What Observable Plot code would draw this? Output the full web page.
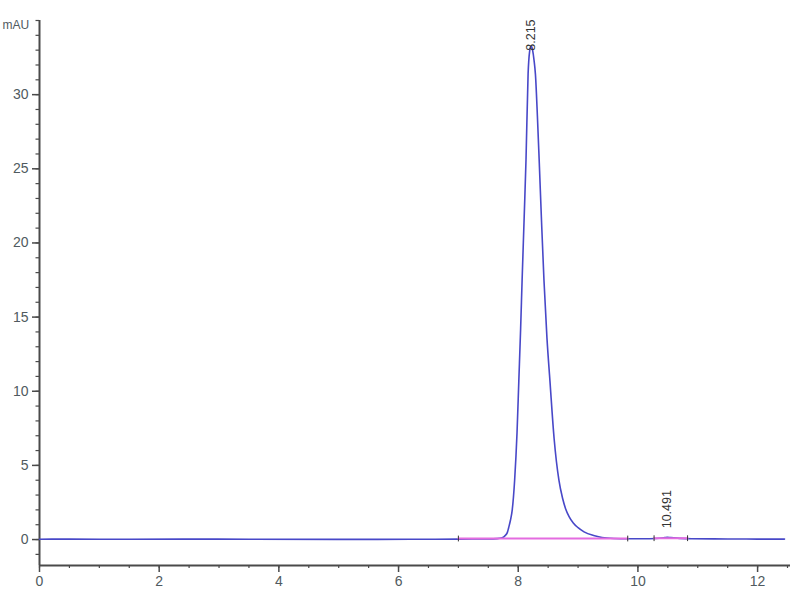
<!DOCTYPE html>
<html>
<head>
<meta charset="utf-8">
<script src="https://cdn.jsdelivr.net/npm/d3@7"></script>
<script src="https://cdn.jsdelivr.net/npm/@observablehq/plot@0.6"></script>
<style>
  html, body { margin: 0; padding: 0; background: #fff; }
  #chart svg { display: block; }
</style>
</head>
<body>
<div id="chart"></div>
<script>
// Chromatogram trace (retention time in min, absorbance in mAU)
const times = [0, 0.5, 1.5, 2.4, 3.5, 5.0, 6.2, 7.0, 7.5, 7.65, 7.72, 7.76, 7.79, 7.82, 7.84, 7.87, 7.90, 7.94, 7.98, 8.01, 8.04, 8.065, 8.10, 8.13, 8.165, 8.19, 8.215, 8.24, 8.265, 8.287, 8.32, 8.35, 8.39, 8.43, 8.48, 8.53, 8.60, 8.68, 8.74, 8.79, 8.85, 8.92, 9.0, 9.1, 9.26, 9.4, 9.6, 9.83, 10.1, 10.3, 10.45, 10.49, 10.55, 10.7, 10.9, 11.5, 12.0, 12.45];
const absorbance = [0.02, 0.03, 0.02, 0.03, 0.02, 0.01, 0.02, 0.03, 0.04, 0.06, 0.1, 0.18, 0.3, 0.5, 0.8, 1.3, 2.0, 4.0, 7.2, 10.7, 14.2, 17.5, 21.8, 25.6, 31.4, 32.9, 33.3, 33.0, 32.3, 31.4, 28.6, 25.6, 21.4, 17.5, 13.6, 10.7, 6.8, 4.0, 2.8, 2.1, 1.55, 1.12, 0.8, 0.52, 0.27, 0.14, 0.07, 0.05, 0.05, 0.07, 0.13, 0.15, 0.13, 0.08, 0.05, 0.04, 0.03, 0.03];

// Integrated peaks
const peakTimes = [8.215, 10.491];
const peakHeights = [33.3, 0.15];
const peakLabels = ["8.215", "10.491"];

// Integration baselines
const baseStart = [7.0, 10.27];
const baseEnd = [9.83, 10.83];
const baseLevelStart = [0.07, 0.09];
const baseLevelEnd = [0.07, 0.09];

// Axes
const xDomain = [0, 12.55];
const yDomain = [-1.75, 35];
const xMajorTicks = [0, 2, 4, 6, 8, 10, 12];
const xMinorTicks = d3.range(0, 12.51, 0.5);
const yMajorTicks = [0, 5, 10, 15, 20, 25, 30];
const yMinorTicks = d3.range(-1, 35.01, 1);
const yUnit = "mAU";

const trace = times.map((t, i) => ({t, v: absorbance[i]}));
const peaks = peakTimes.map((t, i) => ({t, v: peakHeights[i], label: peakLabels[i]}));
const baselineSegs = [];
baseStart.forEach((s, i) => {
  baselineSegs.push({seg: i, t: s, v: baseLevelStart[i]});
  baselineSegs.push({seg: i, t: baseEnd[i], v: baseLevelEnd[i]});
});
const ends = [];
baseStart.forEach((s, i) => {
  ends.push({t: s, v: baseLevelStart[i], dir: 0});
  ends.push({t: baseEnd[i], v: baseLevelEnd[i], dir: 180});
});

const tickShape = {draw(ctx, l) { ctx.moveTo(0, 0); ctx.lineTo(0, -l); }};
const axisColor = "#4a4a4a";
const textColor = "#505a60";
const font = "Liberation Sans, Arial, sans-serif";

const chart = Plot.plot({
  width: 800,
  height: 600,
  marginLeft: 39,
  marginRight: 10,
  marginTop: 20,
  marginBottom: 35,
  style: {fontFamily: font, background: "#fff"},
  x: {domain: xDomain, label: null},
  y: {domain: yDomain, label: null},
  marks: [
    Plot.axisX(xMinorTicks, {tickSize: 3, text: null, label: null, stroke: axisColor, strokeWidth: 1.2}),
    Plot.axisX(xMajorTicks, {tickSize: 7, tickPadding: 4, fontSize: 14, fill: textColor, stroke: axisColor, strokeWidth: 1.5, label: null}),
    Plot.axisY(yMinorTicks, {tickSize: 3.5, text: null, label: null, stroke: axisColor, strokeWidth: 1.2}),
    Plot.axisY(yMajorTicks, {tickSize: 7, tickPadding: 4, fontSize: 14, fill: textColor, stroke: axisColor, strokeWidth: 1.5, label: null}),
    Plot.ruleY(yDomain.slice(0, 1), {stroke: axisColor, strokeWidth: 2}),
    Plot.ruleX(xDomain.slice(0, 1), {stroke: axisColor, strokeWidth: 2}),
    Plot.text([yUnit], {frameAnchor: "top-left", dx: -37, textAnchor: "start", fontSize: 12, fill: textColor}),
    Plot.line(trace, {x: "t", y: "v", stroke: "#4848c8", strokeWidth: 1.6, curve: "monotone-x"}),
    Plot.line(baselineSegs, {x: "t", y: "v", z: "seg", stroke: "#e46ce0", strokeWidth: 2}),
    Plot.vector(ends, {x: "t", y: "v", rotate: "dir", length: 5, shape: tickShape, stroke: "#333", strokeWidth: 1}),
    Plot.text(peaks.slice(0, 1), {x: "t", y: "v", text: "label", rotate: -90, textAnchor: "start", dy: 5, fontSize: 12.5, fill: "#333"}),
    Plot.text(peaks.slice(1), {x: "t", y: "v", text: "label", rotate: -90, textAnchor: "start", dy: -9, fontSize: 12.5, fill: "#333"})
  ]
});
document.getElementById("chart").appendChild(chart);
</script>
</body>
</html>
